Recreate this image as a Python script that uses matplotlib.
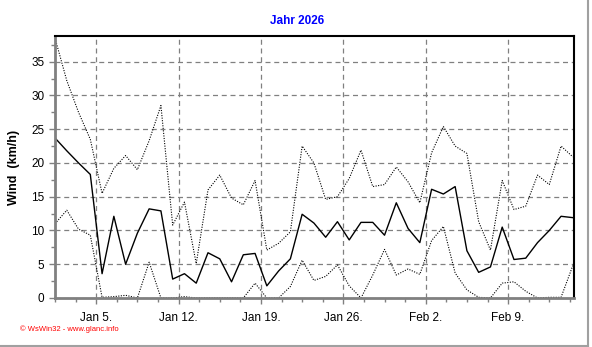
import numpy as np
import matplotlib.pyplot as plt
from matplotlib.lines import Line2D

# Tageswerte 1. Jan - 14. Feb (Wind km/h)
wind_max = [38.5, 32.2, 27.5, 23.5, 15.5, 19.2, 21.1, 19.0, 23.3, 28.5,
            10.8, 14.2, 5.1, 16.0, 18.2, 14.8, 13.8, 17.4, 7.1, 8.1,
            9.8, 22.5, 20.0, 14.6, 15.0, 17.7, 21.9, 16.5, 16.8, 19.4,
            17.2, 14.1, 21.5, 25.4, 22.5, 21.4, 11.3, 7.1, 17.4, 13.1,
            13.6, 18.2, 16.8, 22.5, 20.9]
wind_mittel = [23.7, 21.8, 20.0, 18.3, 3.6, 12.1, 5.0, 9.6, 13.2, 12.9,
               2.8, 3.6, 2.2, 6.7, 5.8, 2.4, 6.4, 6.6, 1.8, 4.0,
               5.8, 12.4, 11.1, 9.0, 11.3, 8.6, 11.2, 11.2, 9.3, 14.1,
               10.3, 8.2, 16.1, 15.4, 16.5, 7.0, 3.8, 4.6, 10.5, 5.7,
               5.9, 8.2, 10.0, 12.1, 11.9]
wind_min = [11.0, 13.0, 10.2, 9.3, 0.1, 0.2, 0.4, 0.0, 5.3, 0.0,
            0.0, 0.2, 0.0, 0.0, 0.0, 0.0, 0.0, 2.2, 0.0, 0.0,
            1.7, 5.6, 2.6, 3.2, 4.9, 1.8, 0.0, 3.4, 7.2, 3.4,
            4.3, 3.5, 8.5, 10.6, 3.7, 1.2, 0.1, 0.0, 2.2, 2.4,
            1.0, 0.0, 0.1, 0.1, 4.8]
wochen_labels = ["Jan 5.", "Jan 12.", "Jan 19.", "Jan 26.", "Feb 2.", "Feb 9."]
wochen_pos = [4, 11, 18, 25, 32, 39]   # Tage ab 1. Jan 0:00

plt.rcParams['font.family'] = ['Liberation Sans', 'DejaVu Sans']

fig = plt.figure(figsize=(5.92, 3.47), dpi=100)
ax = fig.add_axes([55/592, 1-298/347, (574-55)/592, (298-36)/347])

x = np.arange(len(wind_mittel)) + 0.5   # Tagesmitte
ax.plot(x, wind_max, color='black', lw=0.8, ls=(0, (1, 1.3)))
ax.plot(x, wind_mittel, color='black', lw=1.0)
ax.plot(x, wind_min, color='black', lw=0.8, ls=(0, (1, 1.3)))

ax.set_xlim(0.5, 44.6)
ax.set_ylim(0, 38.8)
ax.set_xticks(wochen_pos)
ax.set_xticklabels(wochen_labels)
ax.set_xticks(np.arange(0.5, 44.6, 1.75), minor=True)
ax.set_yticks(np.arange(0, 36, 5))
ax.set_yticks(np.arange(0, 38.8, 2.5), minor=True)
ax.grid(True, which='major', color='#808080', ls=(0, (4, 3)), lw=0.9)
ax.tick_params(which='both', direction='out', color='#808080', labelsize=8.5)
ax.tick_params(which='major', length=4, width=1)
ax.tick_params(which='minor', length=3, width=1)
ax.tick_params(axis='x', pad=6)

for s in ['left', 'bottom']:
    ax.spines[s].set_color('#808080')
    ax.spines[s].set_linewidth(2)
for s in ['top', 'right']:
    ax.spines[s].set_color('black')
    ax.spines[s].set_linewidth(1.5)

ax.set_ylabel("Wind  (km/h)", fontweight='bold', fontsize=9, labelpad=8)
fig.text(297/592, 1-21/347, "Jahr 2026", color='#0000ff', fontweight='bold',
         fontsize=8.5, ha='center', va='center')
fig.text(20/592, 1-329/347, "\u00a9 WsWin32 - www.glanc.info", color='red',
         fontsize=5.5, ha='left', va='center')

# Rahmen rechts / unten
fig.add_artist(Line2D([587.5/592, 587.5/592], [1-346/347, 1], color='#a0a0a0', lw=1.5))
fig.add_artist(Line2D([0, 588/592], [1-345.5/347, 1-345.5/347], color='#a0a0a0', lw=1.5))

fig.savefig("out.png", dpi=100)
